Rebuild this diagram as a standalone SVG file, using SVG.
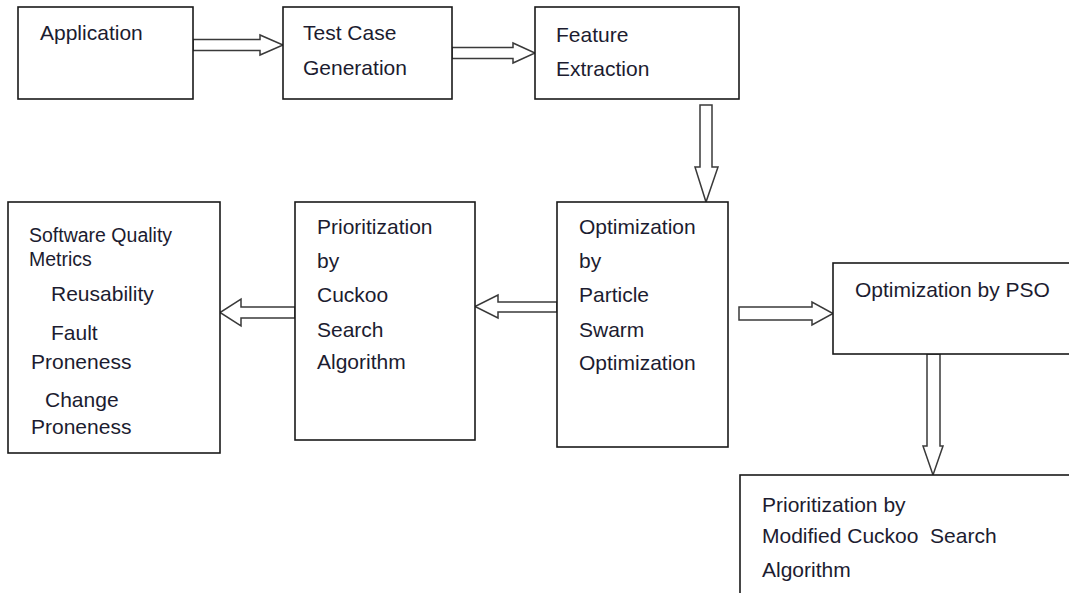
<svg xmlns="http://www.w3.org/2000/svg" width="1069" height="593" viewBox="0 0 1069 593">
<style>
.box{fill:#fff;stroke:#1a1a1a;stroke-width:1.6}
.arr{fill:#fff;stroke:#3a3a3a;stroke-width:1.5;stroke-linejoin:miter}
text{font-family:"Liberation Sans",Arial,sans-serif;font-size:21px;fill:#1c1c30}
.sm{font-size:19.5px}
</style>
<rect width="1069" height="593" fill="#fff"/>
<g id="connectors">
<polygon class="arr" points="193,39.5 260,39.5 260,35 283,45 260,55 260,50.5 193,50.5"/>
<polygon class="arr" points="452,47.5 513,47.5 513,43 535,53 513,63 513,58.5 452,58.5"/>
<polygon class="arr" points="700,105 712,105 712,167 718,167 706,202 695,167 700,167"/>
<polygon class="arr" points="557,302 498,302 498,295 475,306.5 498,318 498,312 557,312"/>
<polygon class="arr" points="295,307 241,307 241,299 220,312.5 241,326 241,318 295,318"/>
<polygon class="arr" points="739,307 812,307 812,302 833,313.5 812,325 812,320 739,320"/>
<polygon class="arr" points="927,354 940,354 940,446 943,446 933,475 923,446 927,446"/>
</g>
<g id="n-application">
<rect class="box" x="18" y="7" width="175" height="92"/>
<text x="40" y="40">Application</text>
</g>
<g id="n-testcase">
<rect class="box" x="283" y="7" width="169" height="92"/>
<text x="303" y="40">Test Case</text>
<text x="303" y="75">Generation</text>
</g>
<g id="n-feature">
<rect class="box" x="535" y="7" width="204" height="92"/>
<text x="556" y="42">Feature</text>
<text x="556" y="76">Extraction</text>
</g>
<g id="n-sqm">
<rect class="box" x="8" y="202" width="212" height="251"/>
<text class="sm" x="29" y="242">Software Quality</text>
<text class="sm" x="29" y="266">Metrics</text>
<text x="51" y="301">Reusability</text>
<text x="51" y="340">Fault</text>
<text x="31" y="369">Proneness</text>
<text x="45" y="407">Change</text>
<text x="31" y="434">Proneness</text>
</g>
<g id="n-cuckoo">
<rect class="box" x="295" y="202" width="180" height="238"/>
<text x="317" y="234">Prioritization</text>
<text x="317" y="268">by</text>
<text x="317" y="302">Cuckoo</text>
<text x="317" y="337">Search</text>
<text x="317" y="369">Algorithm</text>
</g>
<g id="n-pso-mid">
<rect class="box" x="557" y="202" width="171" height="245"/>
<text x="579" y="234">Optimization</text>
<text x="579" y="268">by</text>
<text x="579" y="302">Particle</text>
<text x="579" y="337">Swarm</text>
<text x="579" y="370">Optimization</text>
</g>
<g id="n-pso">
<rect class="box" x="833" y="263" width="250" height="91"/>
<text x="855" y="297">Optimization by PSO</text>
</g>
<g id="n-mcs">
<rect class="box" x="740" y="475" width="345" height="140"/>
<text x="762" y="512">Prioritization by</text>
<text x="762" y="543" xml:space="preserve">Modified Cuckoo  Search</text>
<text x="762" y="577">Algorithm</text>
</g>
</svg>
